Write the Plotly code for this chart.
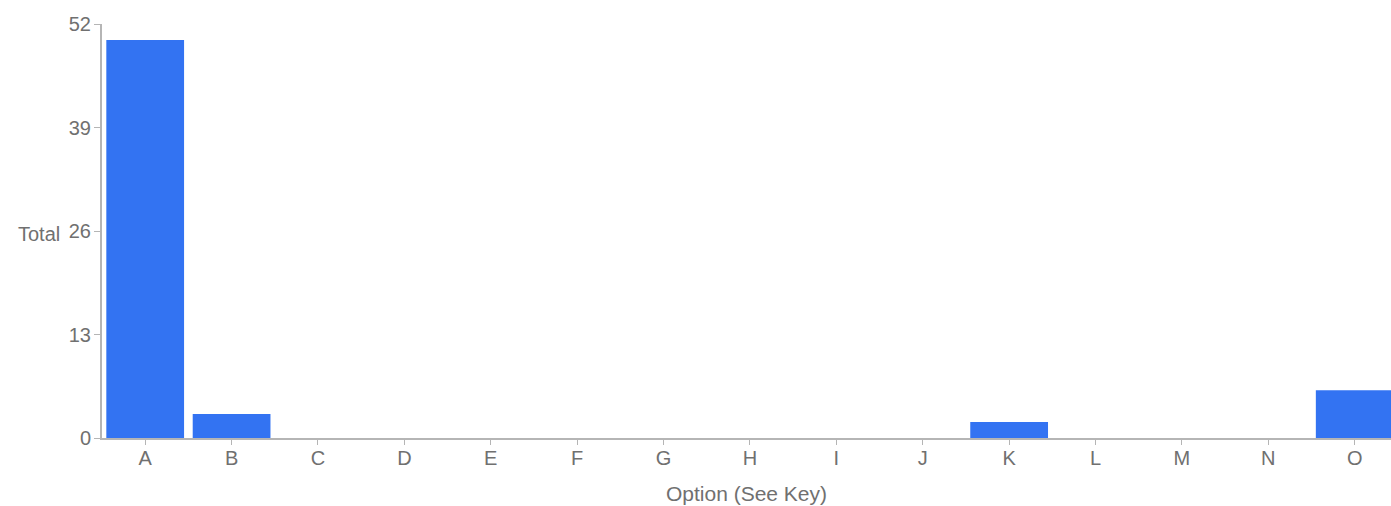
import plotly.graph_objects as go

categories = ["A", "B", "C", "D", "E", "F", "G", "H", "I", "J", "K", "L", "M", "N", "O"]
totals = [50, 3, 0, 0, 0, 0, 0, 0, 0, 0, 2, 0, 0, 0, 6]
y_ticks = [0, 13, 26, 39, 52]

font_color = "#707070"
axis_color = "#b5b5b5"

fig = go.Figure(
    go.Bar(
        x=categories,
        y=totals,
        marker=dict(color="#3373f2", line=dict(width=0)),
    )
)

fig.update_layout(
    width=1391,
    height=506,
    margin=dict(l=102, r=0, t=24, b=68),
    paper_bgcolor="white",
    plot_bgcolor="white",
    bargap=0.1,
    showlegend=False,
    font=dict(family="Liberation Sans, Arial, sans-serif", size=20, color=font_color),
    xaxis=dict(
        type="category",
        range=[-0.5, 14.42],
        showgrid=False,
        showline=True,
        linecolor=axis_color,
        linewidth=2,
        ticks="outside",
        ticklen=5,
        tickcolor=axis_color,
        ticklabelstandoff=-4,
        tickfont=dict(size=20, color=font_color),
        title=dict(text="Option (See Key)", standoff=18, font=dict(size=21, color=font_color)),
    ),
    yaxis=dict(
        range=[0, 52],
        tickvals=y_ticks,
        showgrid=False,
        zeroline=False,
        showline=True,
        linecolor=axis_color,
        linewidth=2,
        ticks="outside",
        ticklen=6,
        tickcolor=axis_color,
        ticklabelstandoff=-1,
        tickfont=dict(size=20, color=font_color),
    ),
    annotations=[
        dict(
            text="Total",
            xref="paper",
            yref="y",
            x=0,
            y=26,
            xanchor="right",
            yanchor="middle",
            xshift=-40,
            yshift=-3,
            showarrow=False,
            font=dict(size=20, color=font_color),
        )
    ],
)

fig.write_html(
    "out.html",
    config={"displayModeBar": False},
    post_script="document.body.style.margin='0';document.body.style.overflow='hidden';",
)
